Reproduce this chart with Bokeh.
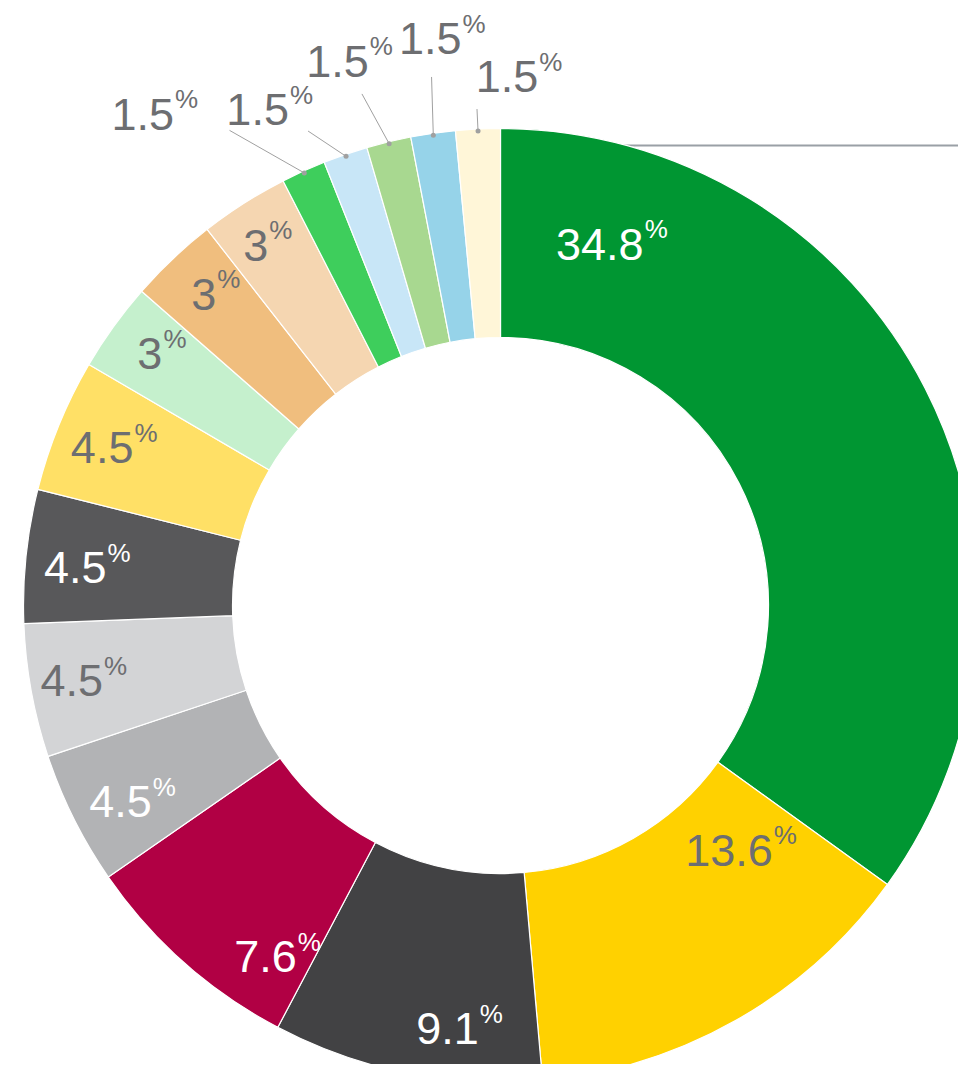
import math
from bokeh.plotting import figure
from bokeh.models import Range1d, ColumnDataSource
from bokeh.core.properties import value
from bokeh.embed import file_html
from bokeh.resources import INLINE

# ---- data (shares in percent, clockwise from 12 o'clock) ----
shares = [34.8, 13.6, 9.1, 7.6, 4.5, 4.5, 4.5, 4.5, 3, 3, 3, 1.5, 1.5, 1.5, 1.5, 1.5]
label_text = ["34.8", "13.6", "9.1", "7.6", "4.5", "4.5", "4.5", "4.5",
              "3", "3", "3", "1.5", "1.5", "1.5", "1.5", "1.5"]
colors = ["#009632", "#FFD100", "#424244", "#B10044", "#B2B3B5", "#D3D4D6",
          "#58585A", "#FFE066", "#C5F0CD", "#F0BE7E", "#F5D6B1", "#3ECE5C",
          "#C8E6F7", "#A8D890", "#96D3E9", "#FFF6D8"]
label_colors = ["#FFFFFF", "#6D6E71", "#FFFFFF", "#FFFFFF", "#FFFFFF", "#6D6E71",
                "#FFFFFF", "#6D6E71", "#6D6E71", "#6D6E71", "#6D6E71", "#6D6E71",
                "#6D6E71", "#6D6E71", "#6D6E71", "#6D6E71"]

# ---- layout (label nudges relative to slice mid-angle; degrees / px) ----
lab_dtheta = [-46, -15, -5.7, -8.9, -1.2, 0.4, -0.5, 0.2, 1, 1, -0.3,
              -10.7, -6, -2, 2.2, 4.6]
lab_r = [380, 341, 423, 415, 417, 424, 416, 419, 424, 424, 431,
         603, 549, 567, 572, 531]
outside = [False] * 11 + [True] * 5
leader_dtheta = [0] * 11 + [-5.3, -3.1, -1.6, 0.7, 0]
leader_r = [0] * 11 + [547, 512, 530, 533, 497]

W, H = 958, 1064
CX, CY = 500, H - 605
R_OUT, R_IN = 477, 268
FS_NUM, FS_PCT = 45, 26
TEXT_LIFT = 14
FONT = "Liberation Sans"

total = sum(shares)
starts, ends, mids = [], [], []
acc = 0.0
for s in shares:
    t0 = acc / total * 360
    acc += s
    t1 = acc / total * 360
    starts.append(t0); ends.append(t1); mids.append((t0 + t1) / 2)


def polar(theta_deg, r):
    t = math.radians(theta_deg)
    return CX + r * math.sin(t), CY + r * math.cos(t)


p = figure(width=W, height=H, output_backend="svg", toolbar_location=None,
           x_range=Range1d(0, W), y_range=Range1d(0, H), min_border=0)
p.axis.visible = False
p.grid.visible = False
p.outline_line_color = None
p.background_fill_color = "white"

# top-right gray guide line (behind the ring)
p.line([CX, W + 10], [H - 145, H - 145], line_color="#9AA0A6", line_width=2)

wsrc = ColumnDataSource(dict(
    x=[CX] * len(shares), y=[CY] * len(shares),
    sa=[math.radians(90 - e) for e in ends],
    ea=[math.radians(90 - s) for s in starts],
    color=colors))
p.annular_wedge(x="x", y="y", inner_radius=R_IN, outer_radius=R_OUT,
                start_angle="sa", end_angle="ea", source=wsrc,
                fill_color="color", line_color="white", line_width=1.2)

# labels
num_x, num_y, pct_x, pct_y, txt, tcol = [], [], [], [], [], []
lx0, ly0, lx1, ly1 = [], [], [], []
dot_x, dot_y = [], []
cap = 0.716 * FS_NUM
for i, t in enumerate(label_text):
    cx, cy = polar(mids[i] + lab_dtheta[i], lab_r[i])
    nw = sum(0.278 if ch == "." else 0.556 for ch in t) * FS_NUM
    pw = 0.85 * FS_PCT
    w = nw + pw
    xj = cx - w / 2 + nw
    base = cy - cap / 2 + TEXT_LIFT
    num_x.append(xj); num_y.append(base)
    pct_x.append(xj + 1); pct_y.append(base + 15)
    txt.append(t); tcol.append(label_colors[i])
    if outside[i]:
        dx, dy = polar(mids[i], R_OUT - 2)
        ex, ey = polar(mids[i] + leader_dtheta[i], leader_r[i])
        dot_x.append(dx); dot_y.append(dy)
        lx0.append(dx); ly0.append(dy); lx1.append(ex); ly1.append(ey)

p.segment(x0=lx0, y0=ly0, x1=lx1, y1=ly1, line_color="#A0A0A0", line_width=1)
p.scatter(x=dot_x, y=dot_y, size=5, fill_color="#A0A0A0", line_color=None)

lsrc = ColumnDataSource(dict(nx=num_x, ny=num_y, px=pct_x, py=pct_y,
                             t=txt, c=tcol, pc=["%"] * len(txt)))
p.text(x="nx", y="ny", text="t", source=lsrc, text_color="c",
       text_font=value(FONT), text_font_size=f"{FS_NUM}px",
       text_align="right", text_baseline="alphabetic")
p.text(x="px", y="py", text="pc", source=lsrc, text_color="c",
       text_font=value(FONT), text_font_size=f"{FS_PCT}px",
       text_align="left", text_baseline="alphabetic")

open("out.html", "w").write(file_html(p, INLINE))
